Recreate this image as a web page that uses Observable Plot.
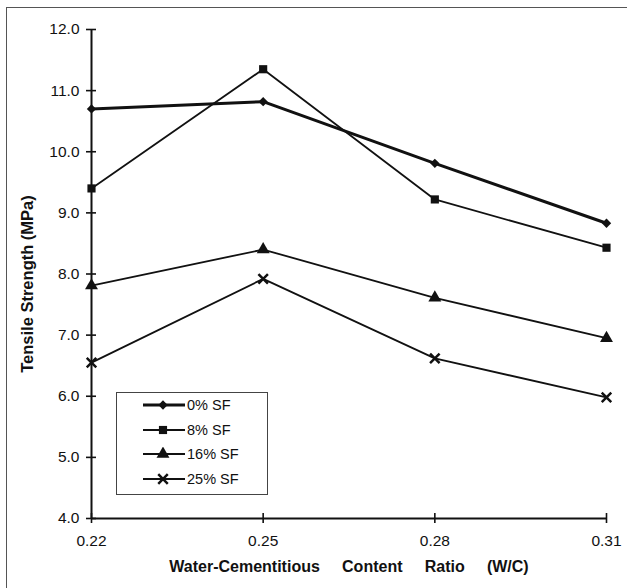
<!DOCTYPE html>
<html>
<head>
<meta charset="utf-8">
<script src="https://cdn.jsdelivr.net/npm/d3@7"></script>
<script src="https://cdn.jsdelivr.net/npm/@observablehq/plot@0.6"></script>
<style>
html, body { margin: 0; padding: 0; background: #fff; overflow: hidden; }
#wrap { position: relative; width: 627px; height: 588px; }
#frame { position: absolute; left: 6px; top: 7px; width: 660px; height: 620px; border-left: 1.5px solid #555; border-top: 1.5px solid #555; }
#chart { position: absolute; left: 0; top: 0; }
#legend { position: absolute; left: 116px; top: 392px; width: 152px; height: 103px; box-sizing: border-box; border: 1px solid #444; background: #fff; font-family: "Liberation Sans", Arial, Helvetica, sans-serif; font-size: 14.5px; color: #111; }
#legend .row { display: flex; align-items: center; height: 24.5px; padding-left: 26px; }
#legend .row svg { display: block; margin-right: 2px; }
svg text { white-space: pre; }
</style>
</head>
<body>
<div id="wrap">
  <div id="frame"></div>
  <div id="chart"></div>
  <div id="legend"></div>
</div>
<script>
// ---- data ----
const wc = [0.22, 0.25, 0.28, 0.31];
const seriesNames = ["0% SF", "8% SF", "16% SF", "25% SF"];
const sf0  = [10.70, 10.82, 9.81, 8.83];
const sf8  = [9.40, 11.35, 9.22, 8.43];
const sf16 = [7.81, 8.40, 7.61, 6.95];
const sf25 = [6.55, 7.92, 6.62, 5.98];
const yTicks = [4, 5, 6, 7, 8, 9, 10, 11, 12];
const xTicks = wc;
const xTitle = "Water-Cementitious     Content     Ratio     (W/C)";
const yTitle = "Tensile Strength (MPa)";

// ---- styles ----
const seriesValues = [sf0, sf8, sf16, sf25];
const symbols = ["diamond2", "square", "triangle", "times"];
const radii = [4.2, 4.6, 4.8, 4.4];
const lineWidths = [3, 1.8, 1.8, 1.8];
const ink = "#111";
const font = '"Liberation Sans", Arial, Helvetica, sans-serif';

const rows = seriesNames.flatMap((s, i) => wc.map((x, j) => ({series: s, x, y: seriesValues[i][j]})));

const seriesMarks = seriesNames.flatMap((s, i) => {
  const filled = symbols[i] !== "times";
  return [
    Plot.line(rows, {filter: d => d.series === s, x: "x", y: "y", stroke: ink, strokeWidth: lineWidths[i]}),
    Plot.dot(rows, {filter: d => d.series === s, x: "x", y: "y", symbol: symbols[i], r: radii[i],
      fill: filled ? ink : "none", stroke: filled ? "none" : ink, strokeWidth: filled ? 0 : 2.5})
  ];
});

const chart = Plot.plot({
  width: 627,
  height: 588,
  marginLeft: 91,
  marginRight: 21,
  marginTop: 29,
  marginBottom: 70,
  style: {fontFamily: font, fontSize: "15.5px", color: ink, background: "transparent"},
  x: {domain: [0.22, 0.31], axis: null},
  y: {domain: [4, 12], axis: null},
  marks: [
    Plot.ruleX([0.22], {stroke: ink, strokeWidth: 2}),
    Plot.ruleY([4], {stroke: ink, strokeWidth: 2}),
    Plot.axisY(yTicks, {tickSize: 10, dx: 5, fill: "none", label: null, stroke: ink, strokeWidth: 1.6}),
    Plot.axisY(yTicks, {tickSize: 0, tickPadding: 12, tickFormat: d3.format(".1f"), label: null, fill: ink}),
    Plot.axisX(xTicks, {tickSize: 10, dy: -5, fill: "none", label: null, stroke: ink, strokeWidth: 1.6}),
    Plot.axisX(xTicks, {tickSize: 0, tickPadding: 16, tickFormat: d3.format(".2f"), label: null, fill: ink}),
    ...seriesMarks,
    Plot.text([yTitle], {text: d => d, frameAnchor: "left", dx: -64, dy: 10, rotate: -90,
      fontWeight: "bold", fontSize: 16.5, fill: ink, textAnchor: "middle", lineAnchor: "middle"}),
    Plot.text([xTitle], {text: d => d, frameAnchor: "bottom", dx: 0, dy: 48,
      fontWeight: "bold", fontSize: 16, fill: ink, textAnchor: "middle", lineAnchor: "middle"})
  ]
});
document.getElementById("chart").appendChild(chart);

// ---- legend ----
const d3Symbols = {diamond2: d3.symbolDiamond2, square: d3.symbolSquare, triangle: d3.symbolTriangle, times: d3.symbolTimes};
const legend = d3.select("#legend");
seriesNames.forEach((s, i) => {
  const row = legend.append("div").attr("class", "row");
  const svg = row.append("svg").attr("width", 42).attr("height", 14);
  svg.append("line").attr("x1", 0).attr("x2", 42).attr("y1", 7).attr("y2", 7)
    .attr("stroke", ink).attr("stroke-width", lineWidths[i]);
  const filled = symbols[i] !== "times";
  svg.append("path")
    .attr("transform", "translate(20,7)")
    .attr("d", d3.symbol(d3Symbols[symbols[i]], Math.PI * radii[i] * radii[i])())
    .attr("fill", filled ? ink : "none")
    .attr("stroke", filled ? "none" : ink)
    .attr("stroke-width", filled ? 0 : 2.5);
  row.append("span").text(s);
});
</script>
</body>
</html>
